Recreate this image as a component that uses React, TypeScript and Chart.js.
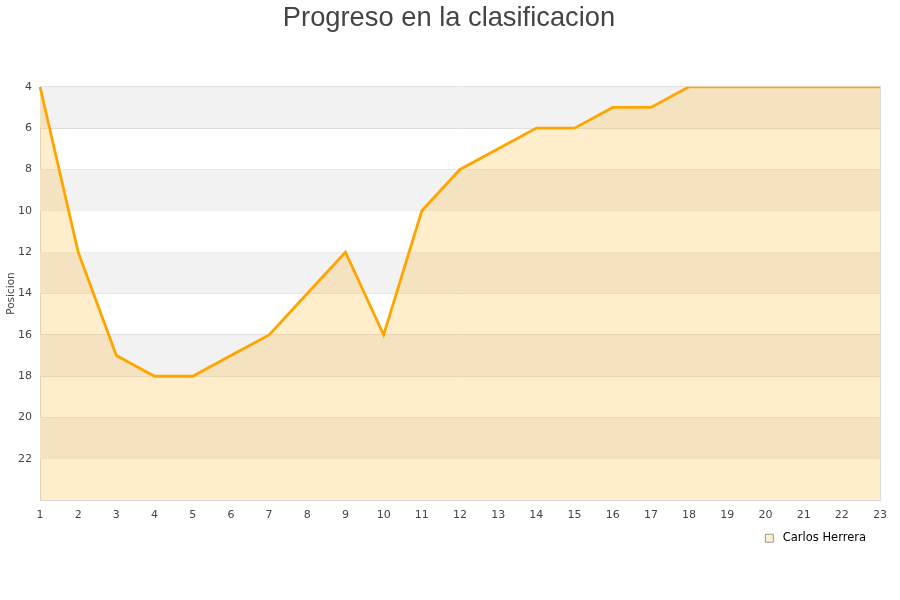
import React, { useEffect, useRef } from "react";
import { Chart, registerables } from "chart.js";

Chart.register(...registerables);

const jornadas = ["1","2","3","4","5","6","7","8","9","10","11","12","13","14","15","16","17","18","19","20","21","22","23"];
const posiciones = [4, 12, 17, 18, 18, 17, 16, 14, 12, 16, 10, 8, 7, 6, 6, 5, 5, 4, 4, 4, 4, 4, 4];
const bandStarts = [4, 8, 12, 16, 20];
const seriesName = "Carlos Herrera";
const chartTitle = "Progreso en la clasificacion";
const yTitle = "Posicion";

const bandPlugin = {
  id: "bands",
  beforeDatasetsDraw(chart: any) {
    const { ctx, chartArea } = chart;
    const y = chart.scales.y;
    ctx.save();
    ctx.fillStyle = "#f2f2f2";
    for (const s of bandStarts) {
      const a = y.getPixelForValue(s);
      const b = y.getPixelForValue(s + 2);
      ctx.fillRect(chartArea.left, Math.min(a, b), chartArea.right - chartArea.left, Math.abs(b - a));
    }
    ctx.restore();
  },
};

export default function App() {
  const ref = useRef<HTMLCanvasElement>(null);
  useEffect(() => {
    if (!ref.current) return;
    const chart = new Chart(ref.current, {
      type: "line",
      data: {
        labels: jornadas,
        datasets: [
          {
            label: seriesName,
            data: posiciones,
            borderColor: "#ffa500",
            backgroundColor: "rgba(255,165,0,0.2)",
            borderWidth: 2.8,
            fill: { value: 24 },
            pointRadius: 0,
            tension: 0,
          },
        ],
      },
      options: {
        responsive: false,
        animation: false,
        layout: { padding: { left: 5, right: 7, top: 2, bottom: 46 } },
        plugins: {
          title: {
            display: true,
            text: chartTitle,
            color: "#444",
            font: { family: "Liberation Sans", size: 27.3, weight: "normal" },
            padding: { top: 0, bottom: 52 },
          },
          legend: {
            position: "bottom",
            align: "end",
            fullSize: false,
            labels: {
              boxWidth: 8,
              boxHeight: 8,
              color: "#222",
              font: { family: "DejaVu Sans", size: 11.5 },
              padding: 3,
              generateLabels: () => [
                {
                  text: " " + seriesName + "   ",
                  fillStyle: "rgba(255,165,0,0.2)",
                  strokeStyle: "#999",
                  lineWidth: 1,
                  datasetIndex: 0,
                } as any,
              ],
            },
          },
          tooltip: { enabled: false },
        },
        scales: {
          x: {
            grid: { display: false, drawTicks: false },
            border: { color: "#ddd" },
            ticks: {
              color: "#444",
              font: { family: "DejaVu Sans", size: 11 },
              maxRotation: 0,
              autoSkip: false,
              padding: 8,
            },
            offset: false,
          },
          y: {
            reverse: true,
            min: 4,
            max: 24,
            border: { color: "#ddd" },
            grid: { color: "#ddd", drawTicks: false },
            ticks: {
              stepSize: 2,
              color: "#444",
              font: { family: "DejaVu Sans", size: 11 },
              padding: 8,
              callback: (v: any) => (v === 24 ? "" : String(v)),
            },
            title: {
              display: true,
              text: yTitle,
              color: "#444",
              font: { family: "DejaVu Sans", size: 10.5 },
              padding: 0,
            },
            afterFit: (s: any) => {
              s.width = 35;
            },
          },
          yRight: {
            position: "right",
            min: 4,
            max: 24,
            reverse: true,
            grid: { display: false, drawTicks: false },
            border: { display: true, color: "#ddd" },
            ticks: { display: false },
            afterFit: (s: any) => {
              s.width = 13;
            },
          },
        },
      },
      plugins: [bandPlugin],
    } as any);
    return () => chart.destroy();
  }, []);
  return (
    <div style={{ position: "absolute", left: 0, top: 0, width: 900, height: 600, background: "#fff" }}>
      <canvas ref={ref} width={900} height={600} />
    </div>
  );
}
